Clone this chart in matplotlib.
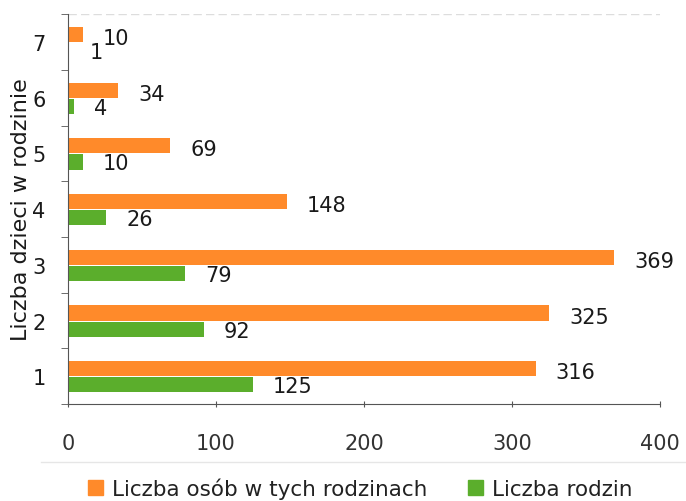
import matplotlib
matplotlib.use("Agg")
import matplotlib.pyplot as plt
from matplotlib.lines import Line2D
from matplotlib.patches import Patch
import numpy as np

categories = ["1", "2", "3", "4", "5", "6", "7"]
osoby = [316, 325, 369, 148, 69, 34, 10]
rodziny = [125, 92, 79, 26, 10, 4, 1]
xticks = [0, 100, 200, 300, 400]

orange = "#FF8A2A"
green = "#5BAE2C"
txt = "#1a1a1a"

fig = plt.figure(figsize=(6.86, 5.02), dpi=100)
ax = fig.add_axes([0.099, 0.193, 0.863, 0.777])

y = np.arange(len(categories))
h = 0.27
ax.barh(y + 0.135, osoby, height=h, color=orange, label="Liczba osób w tych rodzinach")
ax.barh(y - 0.155, rodziny, height=h, color=green, label="Liczba rodzin")

for yi, v in zip(y, osoby):
    ax.text(v + 13.5, yi + 0.07, str(v), va="center", ha="left", fontsize=15, color=txt)
for yi, v in zip(y, rodziny):
    ax.text(v + 13.5, yi - 0.18, str(v), va="center", ha="left", fontsize=15, color=txt)

ax.set_xlim(0, 400)
ax.set_ylim(-0.5, 6.5)
ax.set_xticks(xticks)
ax.set_xticklabels([str(t) for t in xticks], fontsize=15, color="#333333")
ax.set_yticks(y)
ax.set_yticklabels(categories, fontsize=15, color=txt)
ax.set_yticks(np.arange(-0.5, 7, 1.0), minor=True)
ax.tick_params(axis="y", which="major", length=0, pad=16)
ax.tick_params(axis="y", which="minor", length=5, direction="out", color="#555555")
ax.tick_params(axis="x", which="major", length=5, direction="inout", color="#555555", pad=18)

for s in ["top", "right"]:
    ax.spines[s].set_visible(False)
ax.spines["left"].set_color("#555555")
ax.spines["bottom"].set_color("#555555")
ax.axhline(6.5, color="#dddddd", lw=1, ls=(0, (6, 3)))

ax.set_ylabel("Liczba dzieci w rodzinie", fontsize=16, color=txt)
ax.yaxis.set_label_coords(-0.062, 0.5)

fig.add_artist(Line2D([0.06, 1.0], [1 - 463 / 502] * 2, transform=fig.transFigure,
                      color="#e6e6e6", lw=1))

handles = [Patch(color=orange), Patch(color=green)]
fig.legend(handles, ["Liczba osób w tych rodzinach", "Liczba rodzin"],
           loc="center", bbox_to_anchor=(0.525, 1 - 489 / 502), ncol=2, frameon=False,
           fontsize=15.5, handlelength=0.7, handleheight=0.7, handletextpad=0.4,
           columnspacing=1.9, labelcolor="#222222")

fig.savefig("out.png", dpi=100)
